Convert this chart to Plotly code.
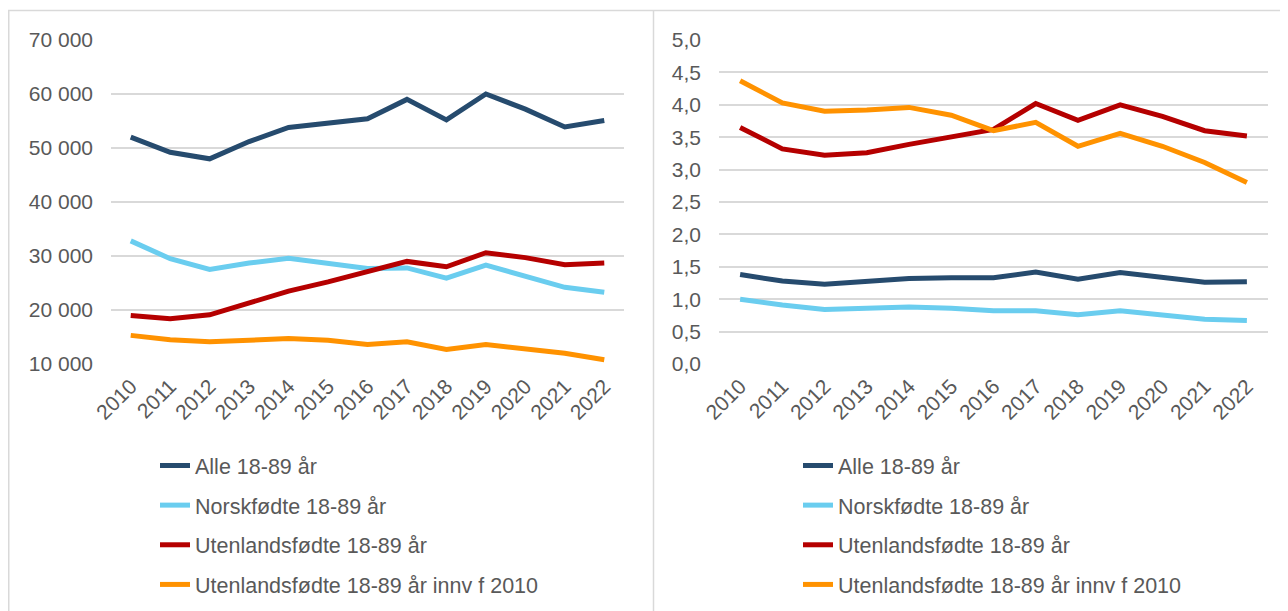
import plotly.graph_objects as go

years = ["2010", "2011", "2012", "2013", "2014", "2015", "2016",
         "2017", "2018", "2019", "2020", "2021", "2022"]

series_names = ["Alle 18-89 år", "Norskfødte 18-89 år",
                "Utenlandsfødte 18-89 år", "Utenlandsfødte 18-89 år innv f 2010"]

# Left panel (antall)
left_alle = [52000, 49200, 48000, 51200, 53800, 54700, 55400, 59000, 55200, 60000, 57200, 53900, 55100]
left_norsk = [32800, 29500, 27500, 28700, 29600, 28700, 27700, 27800, 25900, 28300, 26200, 24200, 23300]
left_utenl = [19000, 18400, 19100, 21400, 23500, 25200, 27000, 29000, 28000, 30600, 29700, 28400, 28700]
left_innv = [15300, 14500, 14100, 14400, 14700, 14400, 13600, 14100, 12700, 13600, 12900, 12000, 10800]

# Right panel (prosent)
right_alle = [1.38, 1.28, 1.23, 1.28, 1.32, 1.33, 1.33, 1.42, 1.31, 1.41, 1.33, 1.26, 1.27]
right_norsk = [1.00, 0.91, 0.84, 0.86, 0.88, 0.86, 0.82, 0.82, 0.76, 0.82, 0.76, 0.69, 0.67]
right_utenl = [3.65, 3.32, 3.22, 3.26, 3.39, 3.50, 3.62, 4.02, 3.76, 4.00, 3.82, 3.60, 3.52]
right_innv = [4.37, 4.03, 3.90, 3.92, 3.96, 3.84, 3.60, 3.73, 3.36, 3.56, 3.36, 3.11, 2.80]

left_ticks = [10000, 20000, 30000, 40000, 50000, 60000, 70000]
right_ticks = [0, 0.5, 1.0, 1.5, 2.0, 2.5, 3.0, 3.5, 4.0, 4.5, 5.0]

colors = ["#264B6E", "#6ACDEF", "#B50000", "#FF9200"]

# The page body adds an 8px margin; the figure is sized and laid out to compensate.
OFF = 8
W, H = 1288 - OFF, 611 - OFF
FONT = "Liberation Sans, Arial, sans-serif"
TXT = "#595959"
GRID = "#D9D9D9"


def px(x):
    return (x - OFF) / W


def py(y):
    return 1 - (y - OFF) / H


fig = go.Figure()

left_data = [left_alle, left_norsk, left_utenl, left_innv]
right_data = [right_alle, right_norsk, right_utenl, right_innv]

for i, (name, vals) in enumerate(zip(series_names, left_data)):
    fig.add_trace(go.Scatter(
        x=years, y=vals, name=name, mode="lines",
        line=dict(color=colors[i], width=5),
        xaxis="x", yaxis="y", legend="legend", legendgroup="L%d" % i,
    ))
for i, (name, vals) in enumerate(zip(series_names, right_data)):
    fig.add_trace(go.Scatter(
        x=years, y=vals, name=name, mode="lines",
        line=dict(color=colors[i], width=5),
        xaxis="x2", yaxis="y2", legend="legend2", legendgroup="R%d" % i,
    ))

axis_common = dict(
    type="category", range=[-0.5, 12.5], tickangle=-45, automargin=False,
    showgrid=False, showline=False, zeroline=False, ticks="",
    ticklabelstandoff=5,
    tickfont=dict(size=21, color=TXT, family=FONT),
)
yaxis_common = dict(
    showgrid=True, gridcolor=GRID, gridwidth=1.5, zeroline=False, automargin=False,
    showline=False, ticks="", ticklabelstandoff=17,
    tickfont=dict(size=21, color=TXT, family=FONT),
)

legend_common = dict(
    orientation="v", bgcolor="rgba(0,0,0,0)",
    font=dict(size=21.5, color=TXT, family=FONT),
    tracegroupgap=8.7, xanchor="left", yanchor="top",
)

fig.update_layout(
    width=W, height=H,
    margin=dict(l=0, r=0, t=0, b=0, autoexpand=False),
    paper_bgcolor="white", plot_bgcolor="white",
    separators=", ",
    font=dict(family=FONT, color=TXT, size=21),
    xaxis=dict(domain=[px(111), px(624)], anchor="y", **axis_common),
    yaxis=dict(domain=[py(364), py(40)], anchor="x", range=[10000, 70000],
               tickvals=left_ticks, tickformat=",d", **yaxis_common),
    xaxis2=dict(domain=[px(719), px(1268)], anchor="y2", **axis_common),
    yaxis2=dict(domain=[py(364), py(40)], anchor="x2", range=[0, 5],
                tickvals=right_ticks, tickformat=".1f", **yaxis_common),
    legend=dict(x=px(155), y=py(445), **legend_common),
    legend2=dict(x=px(798), y=py(445), **legend_common),
    shapes=[
        dict(type="line", xref="paper", yref="paper", x0=0, x1=1, y0=py(10.5), y1=py(10.5),
             line=dict(color=GRID, width=1.5)),
        dict(type="line", xref="paper", yref="paper", x0=px(8.75), x1=px(8.75), y0=0, y1=py(10),
             line=dict(color=GRID, width=1.5)),
        dict(type="line", xref="paper", yref="paper", x0=px(653.5), x1=px(653.5), y0=0, y1=py(10),
             line=dict(color=GRID, width=1.5)),
    ],
    showlegend=True,
)

fig.write_html("out.html")
